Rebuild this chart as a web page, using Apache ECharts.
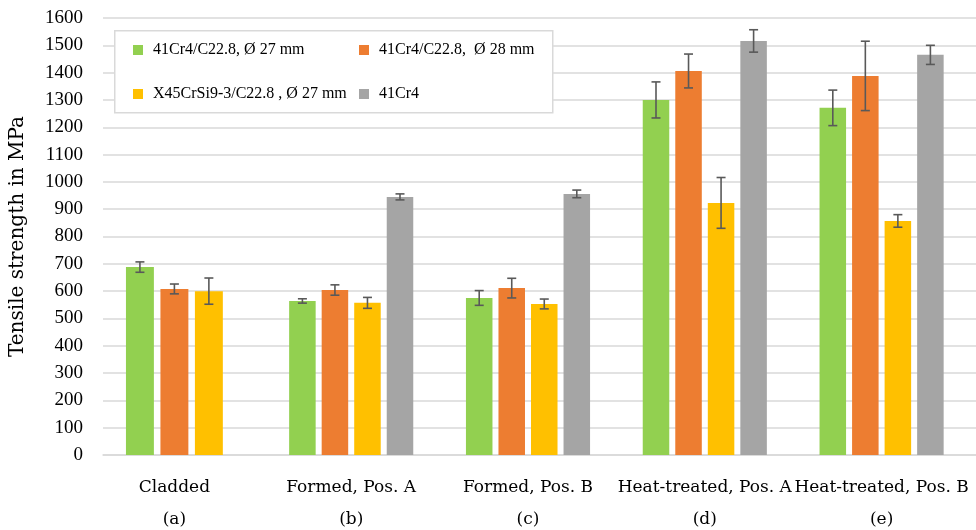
<!DOCTYPE html>
<html>
<head>
<meta charset="utf-8">
<script src="https://cdn.jsdelivr.net/npm/echarts@6/dist/echarts.min.js"></script>
<style>html,body{margin:0;padding:0;background:#fff}#c{width:976px;height:530px}</style>
</head>
<body>
<div id="c"></div>
<script>
const categories = ['Cladded', 'Formed, Pos. A', 'Formed, Pos. B', 'Heat-treated, Pos. A', 'Heat-treated, Pos. B'];
const letters = ['(a)', '(b)', '(c)', '(d)', '(e)'];
const seriesNames = ['41Cr4/C22.8, Ø 27 mm', '41Cr4/C22.8,  Ø 28 mm', 'X45CrSi9-3/C22.8 , Ø 27 mm', '41Cr4'];
const greenVals  = [688, 564, 575, 1300, 1271];
const greenErr   = [19, 8, 27, 66, 65];
const orangeVals = [608, 604, 611, 1406, 1388];
const orangeErr  = [18, 19, 36, 62, 127];
const yellowVals = [600, 557, 553, 923, 857];
const yellowErr  = [48, 20, 18, 93, 23];
const greyVals   = [null, 945, 956, 1516, 1465];
const greyErr    = [null, 11, 14, 41, 35];
const yTicks = { min: 0, max: 1600, interval: 100 };

const colors = ['#92D050', '#ED7D31', '#FFC000', '#A5A5A5'];
const allVals = [greenVals, orangeVals, yellowVals, greyVals];
const allErr = [greenErr, orangeErr, yellowErr, greyErr];
const SERIF = 'Liberation Serif';
const WIDE = 'DejaVu Serif';

function buildData(s) {
  const out = [];
  for (let i = 0; i < categories.length; i++) {
    if (allVals[s][i] == null) continue;
    let n = 0, k = 0;
    for (let j = 0; j < allVals.length; j++) {
      if (allVals[j][i] != null) { if (j < s) k++; n++; }
    }
    out.push([i, allVals[s][i], allErr[s][i], k, n]);
  }
  return out;
}

function renderItem(params, api) {
  const cat = api.value(0), v = api.value(1), e = api.value(2), k = api.value(3), n = api.value(4);
  const base = api.coord([cat, 0]);
  const top = api.coord([cat, v]);
  const band = api.size([1, 0])[0];
  const bw = band * (n === 3 ? 0.158 : 0.15);
  const step = band * (n === 3 ? 0.195 : 0.184);
  const cx = base[0] + (k - (n - 1) / 2) * step;
  const hi = api.coord([cat, v + e])[1];
  const lo = api.coord([cat, v - e])[1];
  const cw = 4.5;
  const es = { stroke: '#595959', lineWidth: 1.6 };
  return {
    type: 'group',
    children: [
      { type: 'rect', shape: { x: cx - bw / 2, y: top[1], width: bw, height: base[1] - top[1] }, style: { fill: api.visual('color') } },
      { type: 'line', shape: { x1: cx, y1: hi, x2: cx, y2: lo }, style: es },
      { type: 'line', shape: { x1: cx - cw, y1: hi, x2: cx + cw, y2: hi }, style: es },
      { type: 'line', shape: { x1: cx - cw, y1: lo, x2: cx + cw, y2: lo }, style: es }
    ]
  };
}

const chart = echarts.init(document.getElementById('c'), null, { renderer: 'canvas' });
chart.setOption({
  animation: false,
  backgroundColor: '#fff',
  textStyle: { fontFamily: SERIF },
  grid: [
    { left: 103, right: 0, top: 18, bottom: 75, outerBoundsMode: 'none', containLabel: false },
    { left: 86, right: 6, top: 18, bottom: 75, outerBoundsMode: 'none', containLabel: false }
  ],
  xAxis: [
    { gridIndex: 0, type: 'category', data: categories, axisLine: { lineStyle: { color: '#d9d9d9', width: 1.5 } }, axisTick: { show: false }, axisLabel: { show: false } },
    { gridIndex: 1, type: 'category', data: categories, axisLine: { show: false }, axisTick: { show: false },
      axisLabel: { interval: 0, margin: 17, fontSize: 17, color: '#000', fontFamily: WIDE, lineHeight: 32,
        formatter: (v, i) => v + '\n' + letters[i] } }
  ],
  yAxis: [
    { gridIndex: 0, type: 'value', min: yTicks.min, max: yTicks.max, interval: yTicks.interval,
      axisLine: { show: false }, axisTick: { show: false },
      splitLine: { lineStyle: { color: '#d9d9d9', width: 1.5 } },
      axisLabel: { margin: 20, fontSize: 19, color: '#000', fontFamily: SERIF, formatter: v => String(v) },
      name: 'Tensile strength in MPa', nameLocation: 'middle', nameGap: 75,
      nameTextStyle: { fontSize: 20, color: '#000', fontFamily: WIDE } },
    { gridIndex: 1, type: 'value', min: yTicks.min, max: yTicks.max, interval: yTicks.interval, show: false, splitLine: { show: false } }
  ],
  legend: [
    { data: [seriesNames[0], seriesNames[2]], orient: 'vertical', left: 128, top: 37, itemWidth: 10, itemHeight: 10, itemGap: 28, icon: 'rect',
      textStyle: { fontSize: 16, color: '#000', fontFamily: SERIF, padding: [0, 0, 0, 5] }, selectedMode: false },
    { data: [seriesNames[1], seriesNames[3]], orient: 'vertical', left: 354, top: 37, itemWidth: 10, itemHeight: 10, itemGap: 28, icon: 'rect',
      textStyle: { fontSize: 16, color: '#000', fontFamily: SERIF, padding: [0, 0, 0, 5] }, selectedMode: false }
  ],
  graphic: [
    { type: 'rect', left: 114, top: 30, z: 3, shape: { width: 438, height: 82 }, style: { fill: '#fff', stroke: '#d9d9d9', lineWidth: 1.5 } }
  ],
  series: seriesNames.map((name, s) => ({
    name: name,
    type: 'custom',
    xAxisIndex: 1,
    yAxisIndex: 1,
    itemStyle: { color: colors[s] },
    renderItem: renderItem,
    encode: { x: 0, y: 1 },
    data: buildData(s),
    z: 2
  }))
});
</script>
</body>
</html>
